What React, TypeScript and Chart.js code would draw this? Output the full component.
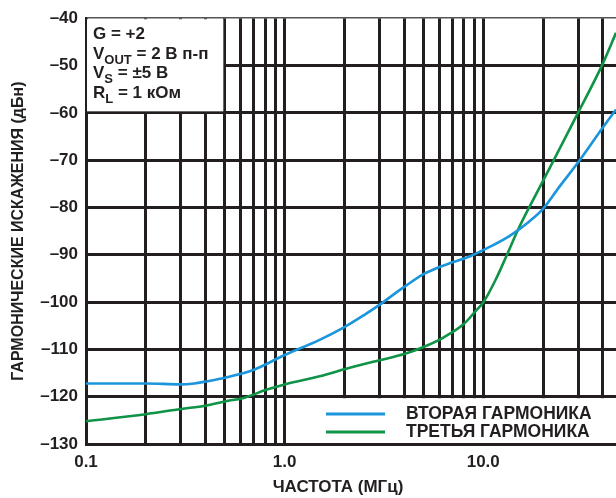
import React, { useEffect, useRef } from "react";
import { Chart, registerables } from "chart.js";

Chart.register(...registerables);

const FONT = '"Liberation Sans", Arial, Helvetica, sans-serif';
const INK = "#231f20";

// Second harmonic (blue)
const secondFreq = [0.1, 0.2, 0.3, 0.35, 0.4, 0.5, 0.7, 1.0, 1.5, 2.0, 2.5, 3.0, 3.7, 4.0, 5.0, 6.0, 7.0, 8.6, 10.7, 13.6, 17, 20, 24.2, 30, 40, 46.6];
const secondVals = [-117.2, -117.2, -117.4, -117.2, -116.8, -116.0, -114.3, -111.2, -108.0, -105.3, -102.8, -100.6, -97.8, -96.8, -94.1, -92.6, -91.6, -90.3, -88.4, -86.0, -83.0, -80.3, -75.6, -70.5, -63.1, -59.3];

// Third harmonic (green)
const thirdFreq = [0.1, 0.2, 0.3, 0.4, 0.5, 0.63, 0.8, 1.0, 1.5, 2.0, 3.0, 4.0, 5.0, 6.3, 8.0, 9.2, 10, 11.6, 13.1, 15.0, 20, 30, 40, 46.6];
const thirdVals = [-125.2, -123.7, -122.6, -121.9, -121.0, -120.2, -118.6, -117.4, -115.7, -114.2, -112.3, -111.0, -109.5, -107.5, -104.6, -101.8, -100.1, -95.1, -90.2, -84.6, -74.4, -60.0, -49.6, -43.1];

const seriesLabels = ["ВТОРАЯ ГАРМОНИКА", "ТРЕТЬЯ ГАРМОНИКА"];
const seriesColors = ["#1b95db", "#0f9347"];

const xTickValues = [0.1, 0.2, 0.3, 0.4, 0.5, 0.6, 0.7, 0.8, 0.9, 1, 2, 3, 4, 5, 6, 7, 8, 9, 10, 20, 30, 40];
const xLabeled = [0.1, 1, 10];
const xLabelText = ["0.1", "1.0", "10.0"];
const yTickValues = [-130, -120, -110, -100, -90, -80, -70, -60, -50, -40];

const xMin = 0.1;
const xMax = 46.6;
const yMin = -130;
const yMax = -40;

const xTitle = "ЧАСТОТА (МГц)";
const yTitle = "ГАРМОНИЧЕСКИЕ ИСКАЖЕНИЯ (дБн)";

// Annotation lines: [main, subscript, rest]
const noteLines: [string, string, string][] = [
  ["G = +2", "", ""],
  ["V", "OUT", " = 2 В п-п"],
  ["V", "S", " = ±5 В"],
  ["R", "L", " = 1 кОм"],
];

const overlayPlugin = {
  id: "overlay",
  beforeDatasetsDraw(chart: any) {
    const { ctx, chartArea: a, scales } = chart;
    const x = scales.x;
    const y = scales.y;
    ctx.save();
    ctx.fillStyle = "#ffffff";
    // annotation box (top-left)
    const bxr = x.getPixelForValue(0.5) - 1.5;
    const byb = y.getPixelForValue(-60) - 1.5;
    ctx.fillRect(a.left + 1, a.top + 1, bxr - a.left - 1, byb - a.top - 1);
    // legend box (bottom-right)
    const lx0 = x.getPixelForValue(1) + 1.5;
    const ly0 = y.getPixelForValue(-120) + 1.5;
    ctx.fillRect(lx0, ly0, a.right - lx0, a.bottom - 1 - ly0);

    // annotation text
    ctx.fillStyle = INK;
    ctx.textBaseline = "alphabetic";
    ctx.textAlign = "left";
    const baseFont = `bold 17px ${FONT}`;
    const subFont = `bold 13px ${FONT}`;
    noteLines.forEach((ln, i) => {
      let tx = a.left + 7;
      const by = a.top + 20.5 + i * 19.8;
      ctx.font = baseFont;
      ctx.fillText(ln[0], tx, by);
      tx += ctx.measureText(ln[0]).width;
      if (ln[1]) {
        ctx.font = subFont;
        ctx.fillText(ln[1], tx, by + 5);
        tx += ctx.measureText(ln[1]).width;
      }
      if (ln[2]) {
        ctx.font = baseFont;
        ctx.fillText(ln[2], tx, by);
      }
    });

    // legend
    ctx.font = `bold 17.5px ${FONT}`;
    ctx.textBaseline = "middle";
    seriesLabels.forEach((lab, i) => {
      const ly = a.bottom - 30 + i * 18;
      ctx.strokeStyle = seriesColors[i];
      ctx.lineWidth = 3;
      ctx.beginPath();
      ctx.moveTo(a.left + 240, ly);
      ctx.lineTo(a.left + 299, ly);
      ctx.stroke();
      ctx.fillStyle = INK;
      ctx.fillText(lab, a.left + 320, ly);
    });
    ctx.restore();
  },
  afterDraw(chart: any) {
    const { ctx, chartArea: a } = chart;
    ctx.save();
    ctx.fillStyle = INK;
    ctx.font = `bold 17px ${FONT}`;
    ctx.textAlign = "center";
    ctx.textBaseline = "middle";
    ctx.fillText(xTitle, (a.left + a.right) / 2 - 13, a.bottom + 43);
    ctx.restore();
  },
};

export default function App() {
  const ref = useRef<HTMLCanvasElement | null>(null);
  useEffect(() => {
    if (!ref.current) return;
    const tickFont = { family: FONT, size: 17, weight: "bold" as const };
    const chart = new Chart(ref.current, {
      type: "line",
      data: {
        datasets: [
          {
            label: seriesLabels[0],
            data: secondFreq.map((f, i) => ({ x: f, y: secondVals[i] })),
            borderColor: seriesColors[0],
            borderWidth: 2.6,
            pointRadius: 0,
            cubicInterpolationMode: "monotone",
            fill: false,
          },
          {
            label: seriesLabels[1],
            data: thirdFreq.map((f, i) => ({ x: f, y: thirdVals[i] })),
            borderColor: seriesColors[1],
            borderWidth: 2.6,
            pointRadius: 0,
            cubicInterpolationMode: "monotone",
            fill: false,
          },
        ],
      },
      options: {
        animation: false,
        responsive: false,
        maintainAspectRatio: false,
        layout: { padding: { top: 17, left: 0, right: 0, bottom: 0 } },
        plugins: { legend: { display: false }, tooltip: { enabled: false } },
        scales: {
          x: {
            type: "logarithmic",
            min: xMin,
            max: xMax,
            afterBuildTicks: (s: any) => {
              s.ticks = xTickValues.map((v) => ({ value: v }));
            },
            afterFit: (s: any) => {
              s.height = 54;
            },
            ticks: {
              autoSkip: false,
              maxRotation: 0,
              minRotation: 0,
              padding: 8,
              color: INK,
              font: tickFont,
              callback: (v: any) => {
                const idx = xLabeled.findIndex((t) => Math.abs(t - Number(v)) < 1e-9);
                return idx >= 0 ? xLabelText[idx] : "";
              },
            },
            grid: {
              drawTicks: false,
              color: INK,
              lineWidth: 3,
            },
            border: { display: true, color: INK, width: 2 },
            title: { display: false },
          },
          y: {
            type: "linear",
            min: yMin,
            max: yMax,
            afterBuildTicks: (s: any) => {
              s.ticks = yTickValues.map((v) => ({ value: v }));
            },
            afterFit: (s: any) => {
              s.width = 86;
            },
            ticks: {
              padding: 8,
              color: INK,
              font: tickFont,
              callback: (v: any) => "–" + Math.abs(Number(v)),
            },
            grid: {
              drawTicks: false,
              color: (c: any) => (c.tick && c.tick.value === yMax ? "#555555" : INK),
              lineWidth: (c: any) => (c.tick && c.tick.value === yMax ? 1.5 : 3),
            },
            border: { display: true, color: INK, width: 2 },
            title: {
              display: true,
              text: yTitle,
              color: INK,
              font: { family: FONT, size: 16, weight: "bold" },
              padding: { top: 9, bottom: 0 },
            },
          },
        },
      },
      plugins: [overlayPlugin],
    });
    return () => chart.destroy();
  }, []);

  return (
    <div style={{ position: "absolute", left: 0, top: 0, width: 616, height: 498, background: "#fff" }}>
      <canvas ref={ref} width={616} height={498} style={{ display: "block" }} />
    </div>
  );
}
